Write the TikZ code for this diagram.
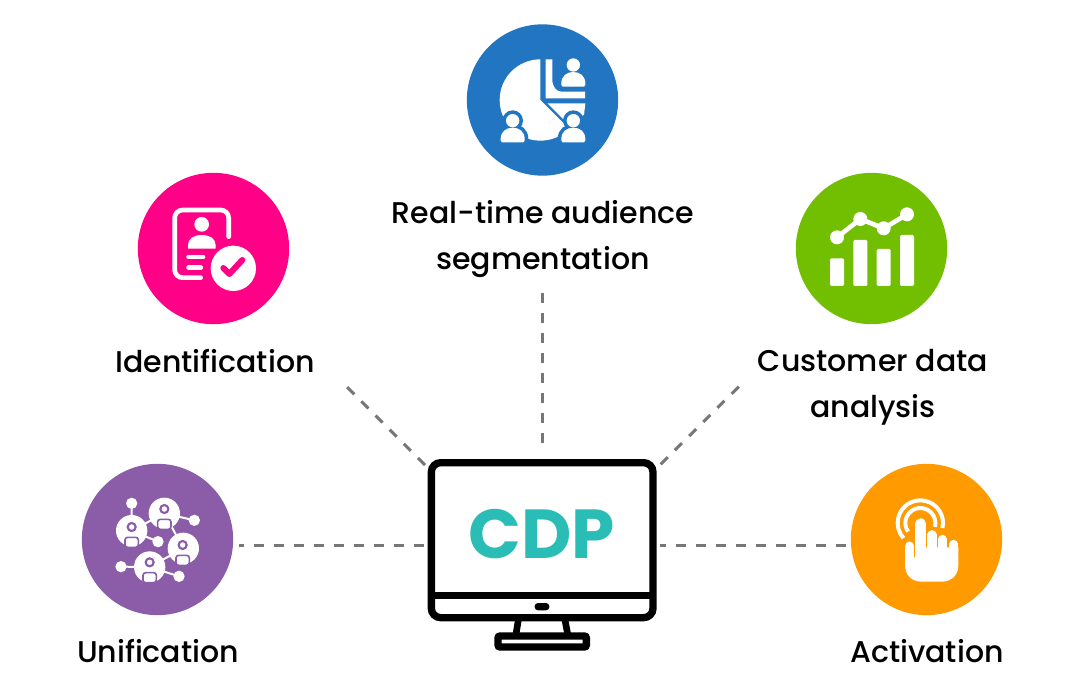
\documentclass[tikz,border=0pt]{standalone}
\usepackage{fontspec}
\newfontfamily\popm{Poppins Medium}
\newfontfamily\pops{Poppins Bold}
\definecolor{cblue}{HTML}{2175C1}
\definecolor{cpink}{HTML}{FF0087}
\definecolor{cgreen}{HTML}{72BE00}
\definecolor{cpurple}{HTML}{8B5CA8}
\definecolor{corange}{HTML}{FF9A00}
\definecolor{cteal}{HTML}{2ABDB6}
\definecolor{cdash}{HTML}{777777}
\tikzset{
  x=0.75pt,y=-0.75pt,
  badge/.style={circle,minimum size=113.5pt,inner sep=0pt},
  label/.style={font=\popm\fontsize{22.5}{34.5}\selectfont,align=center,text=black,inner sep=0pt},
  link/.style={draw=cdash,line width=2.25pt,dash pattern=on 7.5pt off 7.5pt},
  icon/.style={scale=1/3},
}
% person glyph (in zoomed units): head centre #1,#2
\newcommand{\personbody}[2]{(#1-36,#2+55) .. controls (#1-36,#2+33) and (#1-20,#2+21) .. (#1,#2+21) .. controls (#1+20,#2+21) and (#1+36,#2+33) .. (#1+36,#2+55) -- (#1+36,#2+60) .. controls (#1+36,#2+64) and (#1+34,#2+65) .. (#1+32,#2+65) -- (#1-32,#2+65) .. controls (#1-34,#2+65) and (#1-36,#2+64) .. (#1-36,#2+60) -- cycle}
\newcommand{\personhalo}[3]{%
  \fill[#3] (#1,#2) circle[radius=31];
  \filldraw[draw=#3,fill=#3,line width=5.5pt] \personbody{#1}{#2};
}
\newcommand{\personglyph}[3]{%
  \fill[#3] (#1,#2) circle[radius=20];
  \fill[#3] \personbody{#1}{#2};
}
% networked user in the purple icon
\newcommand{\netuser}[4]{%
  \fill[white] (#1,#2) circle[radius=47];
  \draw[cpurple,line width=1.6pt] (#3,#4-13) circle[radius=12];
  \filldraw[draw=cpurple,fill=white,line width=1.2pt,rounded corners=2] (#3-20,#4+18) rectangle (#3+20,#4+48);
}
\begin{document}
\begin{tikzpicture}
\useasboundingbox (0,0) rectangle (1080,698);
\fill[white] (0,0) rectangle (1080,698);

% ---- badges
\node[badge,fill=cblue]   (seg)  at (542.5,100) {};
\node[badge,fill=cpink]   (idn)  at (213.5,248.5) {};
\node[badge,fill=cgreen]  (ana)  at (871.5,248.5) {};
\node[badge,fill=cpurple] (uni)  at (157.5,539.5) {};
\node[badge,fill=corange] (act)  at (926.5,539.5) {};

% ---- labels
\node[label] (lseg) at (543,239.5) {Real-time audience\\segmentation};
\node[label] (lidn) at (215,361) {Identification};
\node[label] (lana) at (873,387.5) {Customer data\\analysis};
\node[label] (luni) at (158,651.5) {Unification};
\node[label] (lact) at (927,651.5) {Activation};

% ---- connector ends
\coordinate (a1) at (425,465); \coordinate (a2) at (347,387);
\coordinate (b1) at (542.5,293); \coordinate (b2) at (542.5,445);
\coordinate (c1) at (738.7,386.7); \coordinate (c2) at (660,465);
\coordinate (d1) at (424,545); \coordinate (d2) at (239,545);
\coordinate (e1) at (846,545); \coordinate (e2) at (660,545);
\draw[link] (a1) -- (a2);
\draw[link] (b1) -- (b2);
\draw[link] (c1) -- (c2);
\draw[link] (d1) -- (d2);
\draw[link] (e1) -- (e2);

% ---- monitor
\begin{scope}[shift={(410,440)},icon]
  \draw[black,line width=5.5pt,rounded corners=7pt] (64,68) rectangle (729,533);
  \draw[black,line width=5.5pt] (64,467) -- (729,467);
  \fill[black,rounded corners=2.5pt] (374,489) rectangle (418,511);
  \draw[black,line width=5pt] (325,540) -- (318,582);
  \draw[black,line width=5pt] (465,540) -- (473,582);
  \draw[black,line width=5.5pt,rounded corners=1.5pt] (264,588) rectangle (529,621);
\end{scope}
\node[inner sep=0pt,text=cteal,font=\pops\fontsize{52}{52}\selectfont] (cdp) at (542,534) {CDP};

% ---- icon: segmentation
\begin{scope}[shift={(460,20)},icon]
  \fill[white] (241,240) -- (241,118) arc[start angle=-90,end angle=-315,radius=122] -- cycle;
  \fill[white] (262,250) -- (376,250) -- (372,285) -- (318,306) -- cycle;
  \personhalo{158}{302}{cblue}
  \personhalo{340}{302}{cblue}
  \personhalo{340}{135}{cblue}
  \fill[white] (257,118) -- (277,118) -- (277,178) .. controls (277,200) and (288,215) .. (305,215) -- (375,215) -- (375,235) -- (257,235) -- cycle;
  \personglyph{158}{302}{white}
  \personglyph{340}{302}{white}
  \personglyph{340}{135}{white}
\end{scope}

% ---- icon: identification
\begin{scope}[shift={(130,170)},icon]
  \draw[white,line width=3.5pt,line cap=round,rounded corners=6pt] (296,200) -- (296,120) -- (134,120) -- (134,323) -- (212,323);
  \fill[white] (215,163) circle[radius=22];
  \fill[white] (174,236) -- (174,225) .. controls (174,205) and (192,195) .. (215,195) .. controls (238,195) and (257,205) .. (257,225) -- (257,236) -- cycle;
  \draw[white,line width=3.7pt,line cap=round] (176,261) -- (219,261);
  \draw[white,line width=3.7pt,line cap=round] (176,293) -- (212,293);
  \fill[white] (310,295) circle[radius=68];
  \draw[cpink,line width=4.5pt,line cap=round,line join=round] (280,294) -- (298,312) -- (337,270);
\end{scope}

% ---- icon: analysis
\begin{scope}[shift={(790,170)},icon]
  \fill[white,rounded corners=1pt] (120,265) rectangle (162,348);
  \fill[white,rounded corners=1pt] (190,210) rectangle (232,348);
  \fill[white,rounded corners=1pt] (260,237) rectangle (302,348);
  \fill[white,rounded corners=1pt] (330,195) rectangle (372,348);
  \draw[white,line width=3.5pt] (141,202) -- (211,147) -- (281,175) -- (351,133);
  \fill[white] (141,202) circle[radius=21];
  \fill[white] (211,147) circle[radius=21];
  \fill[white] (281,175) circle[radius=21];
  \fill[white] (351,133) circle[radius=21];
\end{scope}

% ---- icon: unification
\begin{scope}[shift={(75,460)},icon]
  \draw[white,line width=1.5pt] (170,130) -- (170,212) -- (268,160) -- (358,181);
  \draw[white,line width=1.5pt] (170,212) -- (249,245);
  \draw[white,line width=1.5pt] (268,160) -- (325,265) -- (224,321) -- (138,320);
  \draw[white,line width=1.5pt] (224,321) -- (312,349);
  \fill[white] (170,130) circle[radius=17];
  \fill[white] (358,181) circle[radius=17];
  \fill[white] (249,245) circle[radius=17];
  \fill[white] (138,320) circle[radius=17];
  \fill[white] (312,349) circle[radius=17];
  \netuser{170}{212}{170}{214}
  \netuser{268}{160}{268}{160}
  \netuser{325}{265}{323}{268}
  \netuser{224}{321}{224}{320}
\end{scope}

% ---- icon: activation
\begin{scope}[shift={(845,460)},icon]
  \draw[white,line width=3pt] (226,189) ++(13:68) arc[start angle=13,end angle=-222,radius=68];
  \draw[white,line width=3pt] (226,189) ++(15:45) arc[start angle=15,end angle=-215,radius=45];
  \draw[corange,line width=12pt,line cap=round] (227,192) -- (227,300);
  \draw[corange,line width=10pt,line cap=round] (194,258) -- (194,310);
  \draw[corange,line width=10pt,line cap=round] (261,224) -- (261,300);
  \draw[white,line width=8.5pt,line cap=round] (227,192) -- (227,300);
  \draw[white,line width=6.8pt,line cap=round] (194,258) -- (194,310);
  \draw[white,line width=6.8pt,line cap=round] (261,224) -- (261,300);
  \draw[white,line width=6.8pt,line cap=round] (292,238) -- (292,300);
  \draw[white,line width=6.8pt,line cap=round] (326,253) -- (326,300);
  \fill[white] (180,290) -- (180,315) .. controls (180,345) and (200,365) .. (230,365) -- (290,365) .. controls (320,365) and (340,345) .. (340,315) -- (340,262) -- (212,262) -- (212,292) -- (207,292) -- (207,290) -- cycle;
\end{scope}
\end{tikzpicture}
\end{document}
